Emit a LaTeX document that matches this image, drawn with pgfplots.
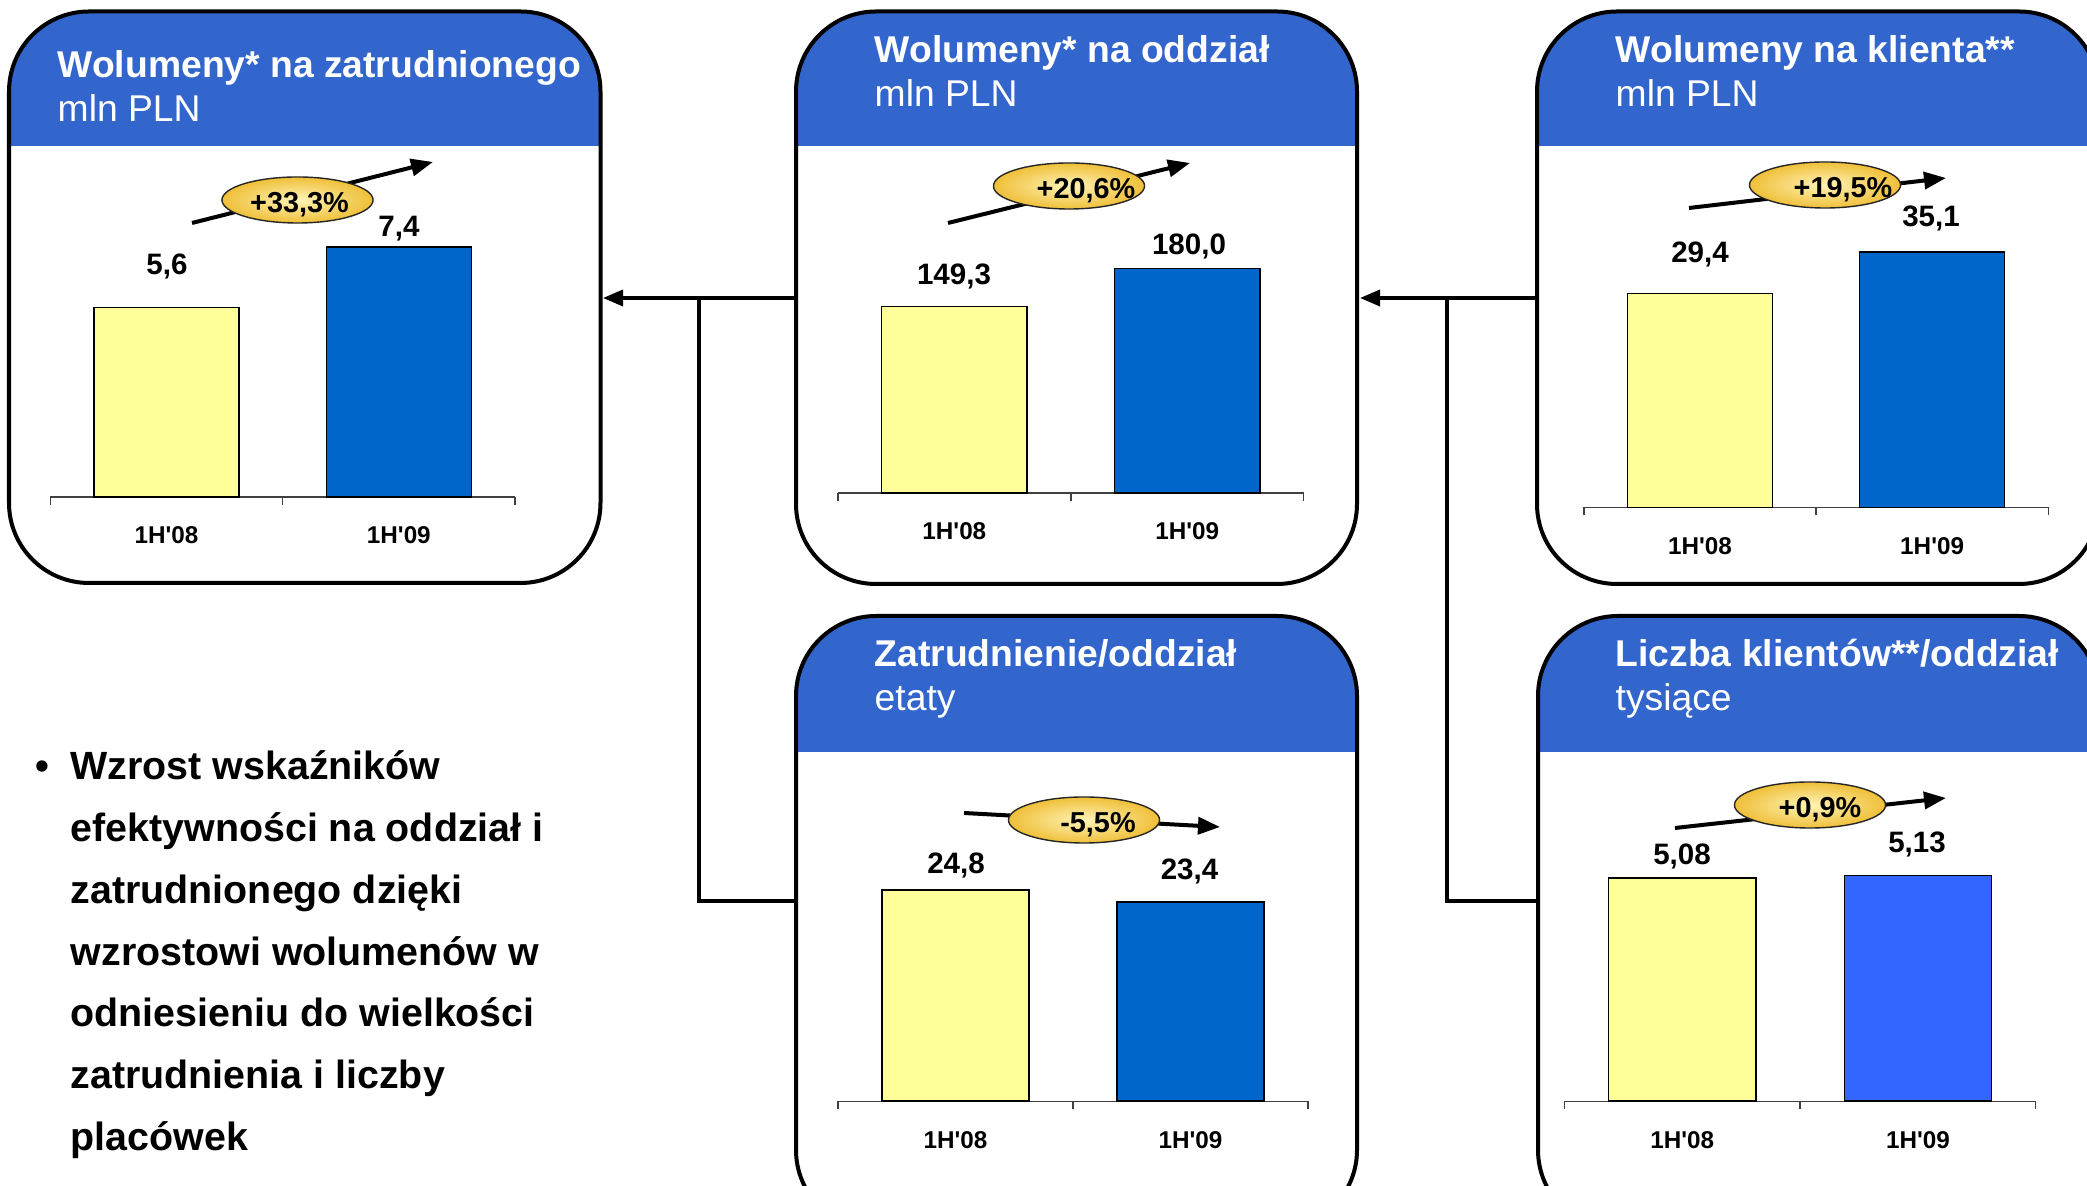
\documentclass[border=0pt]{standalone}
\usepackage{pgfplots}
\pgfplotsset{compat=1.18}
\usepackage{fontspec}
\usetikzlibrary{arrows.meta}
\newfontfamily\lib{Liberation Sans}
\definecolor{hdr}{HTML}{3366CC}
\definecolor{byel}{HTML}{FFFF99}
\definecolor{bblue}{HTML}{0066CC}
\definecolor{bblueb}{HTML}{3366FF}
\definecolor{goldA}{HTML}{FFF4B8}
\definecolor{goldB}{HTML}{EFBF38}

\newcommand\panel[5]{%
  \begin{scope}
    \clip[rounded corners=0.8cm] (#1,#2) rectangle (#3,#4);
    \fill[white] (#1,#2) rectangle (#3,#4);
    \fill[hdr] (#1,#2) rectangle (#3,#5);
  \end{scope}
  \draw[line width=0.04cm, rounded corners=0.8cm] (#1,#2) rectangle (#3,#4);
}
\newcommand\growth[8]{%
  \draw[line width=0.04cm, -{Triangle[length=0.22cm,width=0.17cm]}] (#1,#2) -- (#3,#4);
  \shade[inner color=goldA, outer color=goldB, draw=black!85, line width=0.014cm] (#5,#6) ellipse [x radius=0.755cm, y radius=0.23cm];
  \node[font=\lib\bfseries\fontsize{8.2}{9}\selectfont, text depth=0pt] at (#5+#8,#6+2) {#7};
}
\newcommand\titles[4]{%
  \node[anchor=base west, inner sep=0pt, text=white, font=\lib\bfseries\fontsize{10.6}{12}\selectfont] at (#1,#2) {#3};
  \node[anchor=base west, inner sep=0pt, text=white, font=\lib\fontsize{10.6}{12}\selectfont] at (#1,#2+44) {#4};
}
\newcommand\val[3]{%
  \node[font=\lib\bfseries\fontsize{8.4}{9}\selectfont, text depth=0pt] at (#1,#2) {#3};
}

\pgfplotsset{panel/.style={
  scale only axis, xmin=-0.5, xmax=1.5, ymin=0, anchor=south west,
  axis y line=none, axis x line*=bottom,
  x axis line style={line width=0.014cm, draw=black!75},
  xtick={0,1}, xticklabels={1H'08,1H'09}, major tick length=0pt,
  minor xtick={-0.5,0.5,1.5}, minor tick length=0.08cm, tick align=outside,
  minor tick style={line width=0.014cm, draw=black!75},
  xticklabel style={font=\lib\bfseries\fontsize{6.9}{8}\selectfont, anchor=center, yshift=-0.385cm},
  clip=false,
}}
\tikzset{bar/.style={ybar, bar width=0.625, bar shift=0pt, draw=black, line width=0.015cm}}

\begin{document}
\begin{tikzpicture}[x=0.01cm,y=-0.01cm]
\useasboundingbox (0,0) rectangle (2087,1186);
\begin{scope}
\clip (0,0) rectangle (2087,1186);

% connectors
\draw[line width=0.035cm, -{Triangle[length=0.2cm,width=0.16cm]}] (796,298) -- (603,298);
\draw[line width=0.035cm] (699,298) -- (699,901) -- (796,901);
\draw[line width=0.035cm, -{Triangle[length=0.2cm,width=0.16cm]}] (1537,298) -- (1360,298);
\draw[line width=0.035cm] (1447,298) -- (1447,901) -- (1537,901);

% panels
\panel{9}{11.5}{600.5}{583}{146}
\panel{796}{11.5}{1357}{584}{146.5}
\panel{1537}{11.5}{2099}{584}{146.5}
\panel{796}{616}{1357}{1230}{752}
\panel{1538}{616}{2099}{1230}{752}

\titles{57}{78}{Wolumeny* na zatrudnionego}{mln PLN}
\titles{874}{63}{Wolumeny* na oddział}{mln PLN}
\titles{1615}{63}{Wolumeny na klienta**}{mln PLN}
\titles{874}{667}{Zatrudnienie/oddział}{etaty}
\titles{1615}{667}{Liczba klientów**/oddział}{tysiące}

% charts
\begin{axis}[panel, at={(0.504cm,-4.968cm)}, width=4.643cm, height=3.38cm, ymax=10]
\addplot[bar, fill=byel] coordinates {(0,5.6)};
\addplot[bar, fill=bblue] coordinates {(1,7.4)};
\end{axis}
\begin{axis}[panel, at={(8.374cm,-4.927cm)}, width=4.656cm, height=3.118cm, ymax=250]
\addplot[bar, fill=byel] coordinates {(0,149.3)};
\addplot[bar, fill=bblue] coordinates {(1,180.0)};
\end{axis}
\begin{axis}[panel, at={(15.83cm,-5.07cm)}, width=4.64cm, height=3.27cm, ymax=45]
\addplot[bar, fill=byel] coordinates {(0,29.4)};
\addplot[bar, fill=bblue] coordinates {(1,35.1)};
\end{axis}
\begin{axis}[panel, at={(8.374cm,-11.006cm)}, width=4.70cm, height=2.98cm, ymax=35]
\addplot[bar, fill=byel] coordinates {(0,24.8)};
\addplot[bar, fill=bblue] coordinates {(1,23.4)};
\end{axis}
\begin{axis}[panel, at={(15.634cm,-11.006cm)}, width=4.712cm, height=3.077cm, ymax=7]
\addplot[bar, fill=byel] coordinates {(0,5.08)};
\addplot[bar, fill=bblueb] coordinates {(1,5.13)};
\end{axis}

% value labels
\val{167}{264}{5,6}\val{399}{226}{7,4}
\val{954}{274}{149,3}\val{1189}{244}{180,0}
\val{1700}{252}{29,4}\val{1931}{216}{35,1}
\val{956}{863}{24,8}\val{1189.5}{869.5}{23,4}
\val{1682}{854}{5,08}\val{1917}{842}{5,13}

% growth
\growth{192}{223}{433}{162}{297.5}{200}{+33,3\%}{2}
\growth{948}{223}{1190}{163}{1069}{186}{+20,6\%}{17}
\growth{1689}{208}{1946}{178}{1825}{185}{+19,5\%}{18}
\growth{964}{813}{1220}{827}{1084}{820}{-5,5\%}{14}
\growth{1675}{828}{1946}{798}{1810}{805}{+0,9\%}{10}

% bullet text
\node[anchor=base west, inner sep=0pt, font=\lib\bfseries\fontsize{11.2}{13}\selectfont] at (35,780) {•};
\foreach \t [count=\i from 0] in {Wzrost wskaźników, efektywności na oddział i, zatrudnionego dzięki, wzrostowi wolumenów w, odniesieniu do wielkości, zatrudnienia i liczby, placówek}
  \node[anchor=base west, inner sep=0pt, font=\lib\bfseries\fontsize{11.2}{13}\selectfont] at (70,780+61.7*\i) {\t};
\end{scope}
\end{tikzpicture}
\end{document}
